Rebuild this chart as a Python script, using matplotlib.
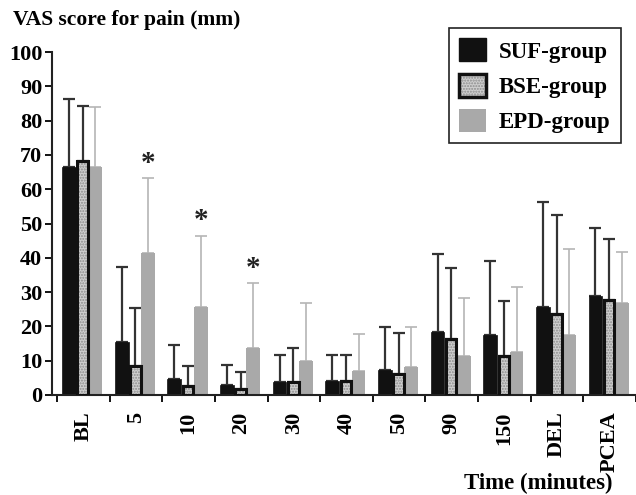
import matplotlib
matplotlib.use("Agg")
import matplotlib.pyplot as plt
import numpy as np
from matplotlib.legend_handler import HandlerTuple
from matplotlib.patches import Patch

categories = ["BL", "5", "10", "20", "30", "40", "50", "90", "150", "DEL", "PCEA"]
suf_mean = [66.5, 15.5, 4.6, 2.8, 3.9, 4.0, 7.3, 18.4, 17.4, 25.6, 28.9]
suf_top  = [86.3, 37.4, 14.5, 8.7, 11.8, 11.8, 19.9, 41.1, 39.2, 56.4, 48.6]
bse_mean = [68.2, 8.4, 2.7, 1.8, 3.9, 4.0, 6.1, 16.3, 11.4, 23.6, 27.7]
bse_top  = [84.3, 25.3, 8.4, 6.6, 13.7, 11.8, 18.0, 37.1, 27.4, 52.5, 45.5]
epd_mean = [66.5, 41.5, 25.6, 13.7, 9.9, 7.0, 8.3, 11.4, 12.4, 17.6, 26.7]
epd_top  = [84.0, 63.3, 46.5, 32.6, 26.8, 17.9, 19.9, 28.2, 31.4, 42.5, 41.8]
significant = ["5", "10", "20"]
yticks = [0, 10, 20, 30, 40, 50, 60, 70, 80, 90, 100]

serif = ["Liberation Serif", "DejaVu Serif"]
plt.rcParams["font.family"] = serif
plt.rcParams["font.weight"] = "bold"

W, H = 636, 495
fig = plt.figure(figsize=(W / 100, H / 100), dpi=100)
ax = fig.add_axes([52 / W, 100 / H, 1 - 52 / W, (443 - 100) / H])

x = np.arange(len(categories))
w = 0.26
off_suf, off_bse, off_epd = -0.27, -0.01, 0.23

ax.bar(x + off_suf, suf_mean, width=w, color="#111111", edgecolor="#111111", lw=0.5, zorder=2)
ax.bar(x + off_bse, bse_mean, width=0.2, color="#cfcfcf", hatch="......", edgecolor="#8c8c8c", lw=0, zorder=2)
ax.bar(x + off_bse, bse_mean, width=0.2, fill=False, edgecolor="#111111", lw=2.2, zorder=3)
ax.bar(x + off_epd, epd_mean, width=w, color="#a9a9a9", edgecolor="none", zorder=2)

def errs(off, mean, top, color, lw):
    m = np.array(mean); t = np.array(top)
    ax.errorbar(x + off, m, yerr=[np.zeros_like(m), t - m], fmt="none",
                ecolor=color, elinewidth=lw, capsize=4.5, capthick=lw, zorder=1)

errs(off_suf, suf_mean, suf_top, "#333333", 1.6)
errs(off_bse, bse_mean, bse_top, "#333333", 1.6)
errs(off_epd, epd_mean, epd_top, "#b5b5b5", 1.2)

for c in significant:
    i = categories.index(c)
    ax.text(x[i] + off_epd, epd_top[i] + 0.3, "*", ha="center", va="bottom",
            fontsize=21, fontweight="bold", color="#222222")

ax.set_ylim(0, 100)
ax.set_xlim(-0.594, 10.42)
ax.set_yticks(yticks)
ax.set_yticklabels([str(v) for v in yticks], fontsize=16, fontweight="bold")
ax.set_xticks(np.arange(len(categories) + 1) - 0.5)
ax.set_xticklabels([])
ax.set_xticks(x, minor=True)
ax.set_xticklabels(categories, minor=True, rotation=90, fontsize=16, fontweight="bold",
                   va="top", ha="center")
ax.tick_params(axis="x", which="minor", length=0, pad=12)
ax.tick_params(axis="x", which="major", length=5, width=1.3, direction="out")
ax.tick_params(axis="y", length=5, width=1.3, direction="out", pad=2)
for s in ["top", "right"]:
    ax.spines[s].set_visible(False)
for s in ["left", "bottom"]:
    ax.spines[s].set_linewidth(1.5)
    ax.spines[s].set_color("#222222")

fig.text(13 / W, 1 - 20 / H, "VAS score for pain (mm)", fontsize=15.5, fontweight="bold",
         ha="left", va="center")
fig.text(613 / W, 1 - 483 / H, "Time (minutes)", fontsize=16.5, fontweight="bold",
         ha="right", va="center")

h_suf = Patch(facecolor="#111111", edgecolor="#111111")
h_bse = (Patch(facecolor="#cfcfcf", hatch="......", edgecolor="#8c8c8c", lw=0),
         Patch(fill=False, edgecolor="#111111", lw=2.5))
h_epd = Patch(facecolor="#a9a9a9", edgecolor="none")
leg = fig.legend([h_suf, h_bse, h_epd], ["SUF-group", "BSE-group", "EPD-group"],
                 handler_map={tuple: HandlerTuple(ndivide=1, pad=0)},
                 loc="upper left", bbox_to_anchor=(449 / W, 1 - 28 / H), borderaxespad=0,
                 fancybox=False, edgecolor="#222222", framealpha=1,
                 prop={"family": serif, "weight": "bold", "size": 16.5},
                 handlelength=1.17, handleheight=1.17, labelspacing=0.48,
                 borderpad=0.45, handletextpad=0.55)
leg.get_frame().set_linewidth(1.2)

fig.savefig("out.png", dpi=100)
